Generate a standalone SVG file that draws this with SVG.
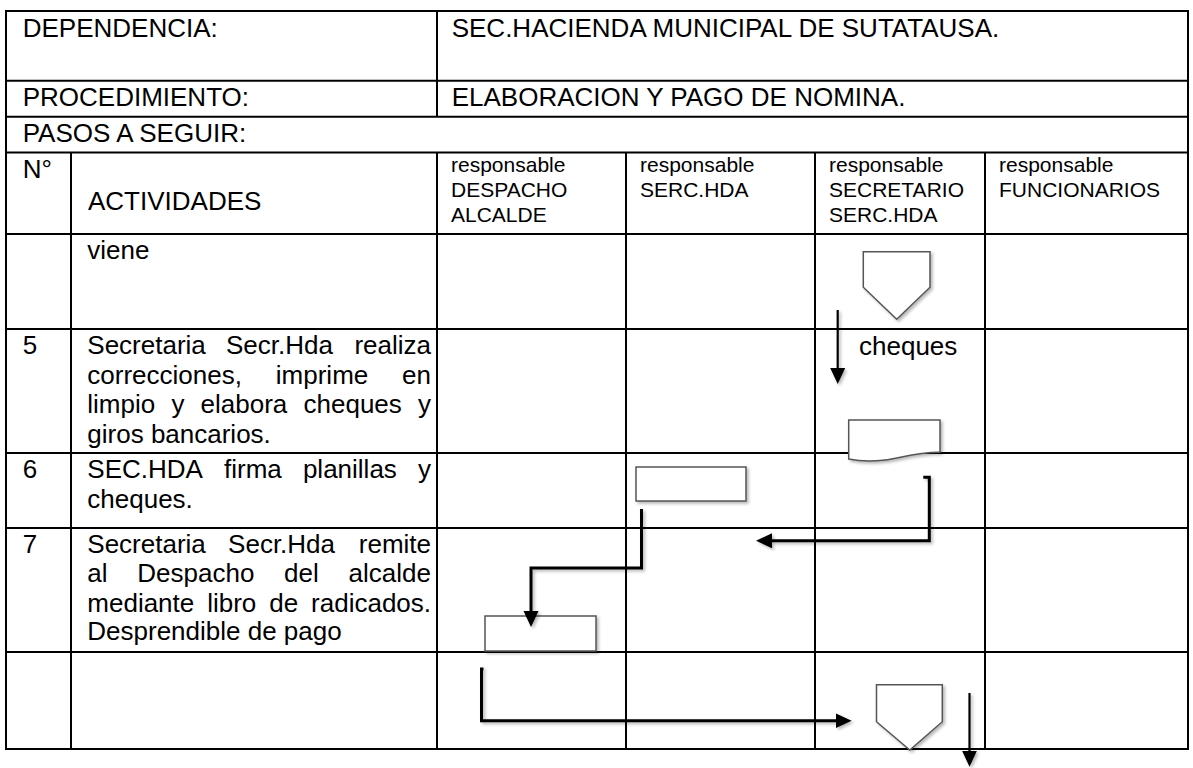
<svg xmlns="http://www.w3.org/2000/svg" width="1193" height="768" viewBox="0 0 1193 768">
<style>
  .grid line, .grid rect { stroke:#000; stroke-width:2; fill:none; }
  text { font-family:"Liberation Sans", Arial, sans-serif; fill:#000; }
  .t { font-size:26px; }
  .s { font-size:21px; }
  .shape { fill:#fff; stroke:#555; stroke-width:1.5; filter:url(#sh); }
  .con { fill:none; stroke:#000; stroke-width:3; filter:url(#sh); }
  .thin { stroke-width:2.2; }
</style>
<defs>
  <filter id="sh" filterUnits="userSpaceOnUse" x="0" y="0" width="1193" height="768">
    <feDropShadow dx="2" dy="2" stdDeviation="1.5" flood-color="#000" flood-opacity="0.28"/>
  </filter>
  <marker id="ah" markerUnits="userSpaceOnUse" viewBox="0 -8 16 16" markerWidth="16" markerHeight="16" refX="1" refY="0" orient="auto">
    <path d="M0,-7.5 L16,0 L0,7.5 Z" fill="#000"/>
  </marker>
</defs>
<rect x="0" y="0" width="1193" height="768" fill="#fff"/>

<g id="table" class="grid">
  <rect x="6" y="11" width="1182" height="738"/>
  <line x1="6" y1="80.7" x2="1188" y2="80.7"/>
  <line x1="6" y1="116.7" x2="1188" y2="116.7"/>
  <line x1="6" y1="152.5" x2="1188" y2="152.5"/>
  <line x1="6" y1="234" x2="1188" y2="234"/>
  <line x1="6" y1="329" x2="1188" y2="329"/>
  <line x1="6" y1="453" x2="1188" y2="453"/>
  <line x1="6" y1="528" x2="1188" y2="528"/>
  <line x1="6" y1="652" x2="1188" y2="652"/>
  <line x1="437" y1="11" x2="437" y2="116.7"/>
  <line x1="71" y1="152.5" x2="71" y2="749"/>
  <line x1="437" y1="152.5" x2="437" y2="749"/>
  <line x1="626" y1="152.5" x2="626" y2="749"/>
  <line x1="815" y1="152.5" x2="815" y2="749"/>
  <line x1="985" y1="152.5" x2="985" y2="749"/>
</g>

<g id="header-text">
  <text class="t" x="22.7" y="37">DEPENDENCIA:</text>
  <text class="t" x="451.7" y="37">SEC.HACIENDA MUNICIPAL DE SUTATAUSA.</text>
  <text class="t" x="22.7" y="106">PROCEDIMIENTO:</text>
  <text class="t" x="451.7" y="106">ELABORACION Y PAGO DE NOMINA.</text>
  <text class="t" x="22.7" y="142">PASOS A SEGUIR:</text>
  <text class="t" x="22.7" y="178">N°</text>
  <text class="t" x="88" y="210">ACTIVIDADES</text>
  <text class="s" x="451"><tspan x="451" y="172">responsable</tspan><tspan x="451" y="197">DESPACHO</tspan><tspan x="451" y="222">ALCALDE</tspan></text>
  <text class="s" x="640"><tspan x="640" y="172">responsable</tspan><tspan x="640" y="197">SERC.HDA</tspan></text>
  <text class="s" x="829"><tspan x="829" y="172">responsable</tspan><tspan x="829" y="197">SECRETARIO</tspan><tspan x="829" y="222">SERC.HDA</tspan></text>
  <text class="s" x="999"><tspan x="999" y="172">responsable</tspan><tspan x="999" y="197">FUNCIONARIOS</tspan></text>
</g>

<g id="row-viene">
  <text class="t" x="87.3" y="259">viene</text>
</g>

<g id="row-5">
  <text class="t" x="22.7" y="354">5</text>
  <text class="t"><tspan x="87.3" y="354">Secretaria</tspan><tspan x="225.9" y="354">Secr.Hda</tspan><tspan x="354.4" y="354">realiza</tspan></text>
  <text class="t"><tspan x="87.3" y="383.5">correcciones,</tspan><tspan x="275.8" y="383.5">imprime</tspan><tspan x="402.1" y="383.5">en</tspan></text>
  <text class="t"><tspan x="87.3" y="413">limpio</tspan><tspan x="171.4" y="413">y</tspan><tspan x="200.6" y="413">elabora</tspan><tspan x="303.5" y="413">cheques</tspan><tspan x="418" y="413">y</tspan></text>
  <text class="t" x="87.3" y="442.5">giros bancarios.</text>
</g>

<g id="row-6">
  <text class="t" x="22.7" y="478">6</text>
  <text class="t"><tspan x="87.3" y="478">SEC.HDA</tspan><tspan x="224" y="478">firma</tspan><tspan x="302.9" y="478">planillas</tspan><tspan x="418" y="478">y</tspan></text>
  <text class="t" x="87.3" y="507.5">cheques.</text>
</g>

<g id="row-7">
  <text class="t" x="22.7" y="553">7</text>
  <text class="t"><tspan x="87.3" y="553">Secretaria</tspan><tspan x="228.1" y="553">Secr.Hda</tspan><tspan x="358.8" y="553">remite</tspan></text>
  <text class="t"><tspan x="87.3" y="582.3">al</tspan><tspan x="137.3" y="582.3">Despacho</tspan><tspan x="284.1" y="582.3">del</tspan><tspan x="348.6" y="582.3">alcalde</tspan></text>
  <text class="t"><tspan x="87.3" y="611.7">mediante</tspan><tspan x="207.2" y="611.7">libro</tspan><tspan x="269.3" y="611.7">de</tspan><tspan x="311.1" y="611.7">radicados.</tspan></text>
  <text class="t" x="87.3" y="640">Desprendible de pago</text>
</g>

<g id="offpage-in">
  <polygon class="shape" points="863.3,251.7 930,251.7 930,287.3 896.7,319.3 863.3,287.3"/>
</g>
<g id="label-cheques">
  <text class="t" x="859" y="355">cheques</text>
</g>
<g id="doc-cheques">
  <path class="shape" d="M848.7,420 H940 V452.3 C918,452 900,458 885,460 C870,462 858,461 848.7,459 Z"/>
</g>
<g id="rect-serc">
  <rect class="shape" x="636" y="467" width="110" height="34"/>
</g>
<g id="rect-despacho">
  <rect class="shape" x="485" y="616" width="111" height="35"/>
</g>
<g id="offpage-out">
  <polygon class="shape" points="876.5,684.7 942.3,684.7 942.3,721.7 909.8,750 876.5,721.7"/>
</g>

<g id="connectors">
  <path class="con thin" d="M837.7,310 V369" marker-end="url(#ah)"/>
  <path class="con" d="M923.3,477.3 H929.3 V540.7 H771" marker-end="url(#ah)"/>
  <path class="con" d="M641.5,509 V568 H531 V612" marker-end="url(#ah)"/>
  <path class="con" d="M483.5,669 H481.5 V720.7 H836.6" marker-end="url(#ah)"/>
  <path class="con thin" d="M969.5,693 V751.7" marker-end="url(#ah)"/>
</g>
</svg>
